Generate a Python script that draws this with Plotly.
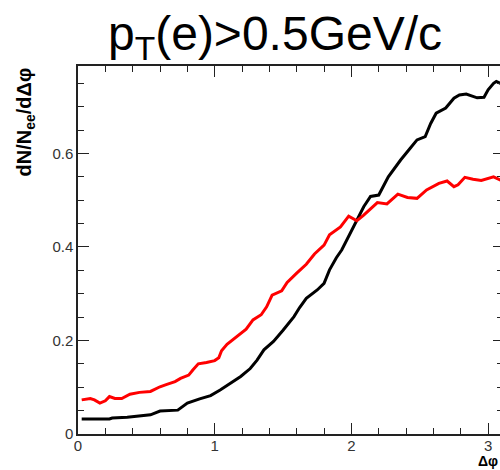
import plotly.graph_objects as go

# black curve
black_x = [0.027, 0.23, 0.25, 0.36, 0.53, 0.56, 0.60, 0.73, 0.76, 0.80, 0.89, 0.97, 1.04, 1.11, 1.19,
           1.26, 1.31, 1.36, 1.43, 1.50, 1.58, 1.62, 1.67, 1.75, 1.80, 1.84, 1.89, 1.93, 1.99, 2.09,
           2.14, 2.20, 2.27, 2.36, 2.43, 2.48, 2.54, 2.58, 2.62, 2.69, 2.75, 2.79, 2.84, 2.92, 2.97,
           3.00, 3.04, 3.06, 3.09, 3.14]
black_y = [0.032, 0.032, 0.034, 0.036, 0.041, 0.045, 0.049, 0.051, 0.058, 0.066, 0.075, 0.082, 0.094,
           0.108, 0.123, 0.140, 0.158, 0.180, 0.198, 0.222, 0.251, 0.270, 0.290, 0.308, 0.322, 0.351,
           0.377, 0.394, 0.429, 0.486, 0.508, 0.511, 0.550, 0.586, 0.611, 0.629, 0.636, 0.664, 0.686,
           0.697, 0.718, 0.725, 0.727, 0.719, 0.720, 0.736, 0.750, 0.754, 0.750, 0.745]

# red curve
red_x = [0.027, 0.09, 0.12, 0.16, 0.20, 0.23, 0.27, 0.32, 0.38, 0.45, 0.53, 0.60, 0.65, 0.71, 0.75,
         0.81, 0.84, 0.88, 0.94, 1.00, 1.03, 1.05, 1.09, 1.16, 1.23, 1.28, 1.34, 1.38, 1.42, 1.49,
         1.53, 1.60, 1.67, 1.73, 1.80, 1.84, 1.92, 1.98, 2.04, 2.09, 2.19, 2.26, 2.34, 2.41, 2.48,
         2.55, 2.64, 2.70, 2.75, 2.78, 2.83, 2.89, 2.95, 3.04, 3.09, 3.14]
red_y = [0.073, 0.076, 0.073, 0.066, 0.071, 0.080, 0.076, 0.076, 0.085, 0.089, 0.091, 0.101, 0.106,
         0.112, 0.119, 0.126, 0.137, 0.150, 0.153, 0.157, 0.163, 0.178, 0.192, 0.208, 0.224, 0.244,
         0.255, 0.272, 0.297, 0.306, 0.324, 0.344, 0.363, 0.385, 0.404, 0.426, 0.443, 0.466, 0.456,
         0.468, 0.495, 0.492, 0.513, 0.506, 0.504, 0.522, 0.536, 0.541, 0.529, 0.533, 0.549, 0.545,
         0.542, 0.550, 0.543, 0.545]

x_ticks = [0, 1, 2, 3]
x_tick_labels = ["0", "1", "2", "3"]
y_ticks = [0, 0.2, 0.4, 0.6]
y_tick_labels = ["0", "0.2", "0.4", "0.6"]

XR = [0, 3.087]
YR = [0, 0.787]

fig = go.Figure()
fig.add_trace(go.Scatter(x=black_x, y=black_y, mode="lines",
                         line=dict(color="black", width=3), showlegend=False))
fig.add_trace(go.Scatter(x=red_x, y=red_y, mode="lines",
                         line=dict(color="#ff0000", width=3), showlegend=False))
# invisible trace for the right-side tick axis
fig.add_trace(go.Scatter(x=[None], y=[None], yaxis="y2", showlegend=False, hoverinfo="skip"))

tickfont = dict(family="Liberation Sans, Arial", size=15, color="#333333")

fig.update_layout(
    width=500, height=470,
    margin=dict(l=78, r=0, t=66, b=36),
    paper_bgcolor="white", plot_bgcolor="white",
    title=dict(text="p<sub>T</sub>(e)>0.5GeV/c",
               font=dict(family="Liberation Sans, Arial", size=48, color="black"),
               x=0.55, xanchor="center", y=1 - 33 / 470, yanchor="middle"),
    xaxis=dict(range=XR, showgrid=False, zeroline=False,
               showline=True, linecolor="#222", linewidth=1.5, mirror="ticks",
               ticks="inside", ticklen=11, tickwidth=1.3, tickcolor="#222",
               tickvals=x_ticks, ticktext=x_tick_labels, tickfont=tickfont,
               ticklabelstandoff=-3,
               minor=dict(dtick=0.2, tick0=0, ticks="inside", ticklen=6, tickwidth=1.2, tickcolor="#222")),
    yaxis=dict(range=YR, showgrid=False, zeroline=False,
               showline=True, linecolor="#222", linewidth=1.5,
               ticks="inside", ticklen=11, tickwidth=1.3, tickcolor="#222",
               tickvals=y_ticks, ticktext=y_tick_labels, tickfont=tickfont,
               minor=dict(dtick=0.05, tick0=0, ticks="inside", ticklen=6, tickwidth=1.2, tickcolor="#222")),
    yaxis2=dict(range=YR, overlaying="y", side="right", anchor="x",
                showgrid=False, zeroline=False, showline=False, showticklabels=False,
                ticks="inside", ticklen=7, tickwidth=1.3, tickcolor="#222",
                tickvals=y_ticks,
                minor=dict(dtick=0.05, tick0=0, ticks="inside", ticklen=3, tickwidth=1.2, tickcolor="#222")),
    annotations=[
        dict(text="<b>dN/N<sub>ee</sub>/dΔφ</b>", textangle=-90, showarrow=False,
             xref="paper", yref="paper", x=(25 - 78) / 422, y=(434 - 66) / 368,
             xanchor="center", yanchor="top",
             font=dict(family="Liberation Sans, Arial", size=20, color="black")),
        dict(text="<b>Δφ</b>", showarrow=False,
             xref="paper", yref="paper", x=(499 - 78) / 422, y=(434 - 470) / 368,
             xanchor="right", yanchor="bottom", borderpad=0,
             font=dict(family="Liberation Sans, Arial", size=14, color="black")),
    ],
)

fig.write_html("out.html")
